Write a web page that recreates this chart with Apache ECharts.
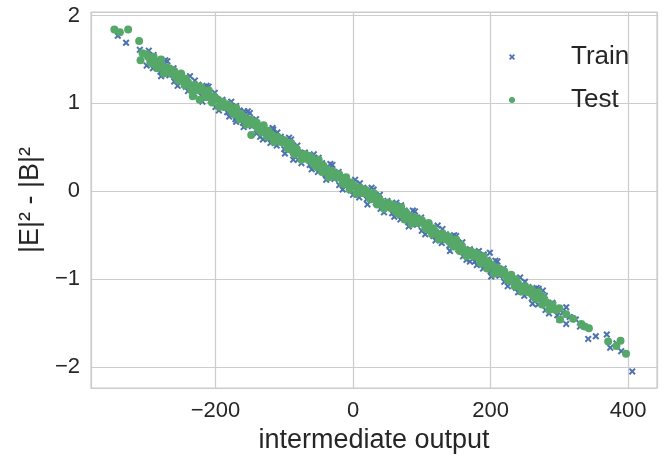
<!DOCTYPE html>
<html>
<head>
<meta charset="utf-8">
<script src="https://cdn.jsdelivr.net/npm/echarts@6/dist/echarts.min.js"></script>
<style>
  html, body { margin: 0; padding: 0; background: #fff; }
  #chart { width: 665px; height: 459px; }
</style>
</head>
<body>
<div id="chart"></div>
<script>
// points, [intermediate output, |E|^2 - |B|^2]
var trainPoints = [
  [-297, 1.60], [-291, 1.40], [-285, 1.50], [-279, 1.31], [-273, 1.49], [-267, 1.32], [-261, 1.40], [-255, 1.20],
  [-249, 1.31], [-243, 1.19], [-237, 1.31], [-231, 1.11], [-225, 1.21], [-219, 1.02], [-213, 1.20], [-207, 1.03],
  [-201, 1.12], [-195, 0.92], [-189, 1.02], [-183, 0.90], [-177, 1.02], [-171, 0.82], [-165, 0.92], [-159, 0.73],
  [-153, 0.91], [-147, 0.74], [-141, 0.82], [-135, 0.62], [-129, 0.72], [-123, 0.60], [-117, 0.72], [-111, 0.52],
  [-105, 0.62], [-99, 0.43], [-93, 0.61], [-87, 0.44], [-81, 0.52], [-75, 0.32], [-69, 0.42], [-63, 0.30],
  [-57, 0.42], [-51, 0.22], [-45, 0.32], [-39, 0.13], [-33, 0.31], [-27, 0.14], [-21, 0.22], [-15, 0.02],
  [-9, 0.12], [-3, 0.01], [3, 0.13], [9, -0.07], [15, 0.04], [21, -0.15], [27, 0.04], [33, -0.13],
  [39, -0.04], [45, -0.24], [51, -0.13], [57, -0.25], [63, -0.13], [69, -0.32], [75, -0.22], [81, -0.40],
  [87, -0.22], [93, -0.38], [99, -0.30], [105, -0.49], [111, -0.39], [117, -0.51], [123, -0.39], [129, -0.59],
  [135, -0.49], [141, -0.68], [147, -0.50], [153, -0.66], [159, -0.58], [165, -0.78], [171, -0.68], [177, -0.80],
  [183, -0.68], [189, -0.88], [195, -0.78], [201, -0.97], [207, -0.79], [213, -0.96], [219, -0.88], [225, -1.08],
  [231, -0.98], [237, -1.10], [243, -0.98], [249, -1.19], [255, -1.09], [261, -1.28], [267, -1.10], [273, -1.27],
  [279, -1.19], [285, -1.39], [291, -1.29], [297, -1.41]
];
var trainEdge = [
  [-300, 1.43], [-290, 1.55], [-280, 1.36], [-270, 1.48], [-260, 1.25], [-250, 1.33], [-240, 1.14], [-230, 1.26],
  [-220, 1.08], [-210, 1.19], [-200, 0.96], [-190, 1.04], [-180, 0.85], [-170, 0.97], [-160, 0.78], [-150, 0.89],
  [-140, 0.66], [-130, 0.74], [-120, 0.55], [-110, 0.67], [-100, 0.48], [-90, 0.59], [-80, 0.36], [-70, 0.44],
  [-60, 0.25], [-50, 0.38], [-40, 0.19], [-30, 0.30], [-20, 0.07], [-10, 0.15], [0, -0.04], [10, 0.09],
  [20, -0.09], [30, 0.02], [40, -0.20], [50, -0.11], [60, -0.29], [70, -0.16], [80, -0.35], [90, -0.23],
  [100, -0.45], [110, -0.37], [120, -0.56], [130, -0.43], [140, -0.62], [150, -0.51], [160, -0.74], [170, -0.66],
  [180, -0.84], [190, -0.72], [200, -0.91], [210, -0.80], [220, -1.03], [230, -0.96], [240, -1.15], [250, -1.03],
  [260, -1.22], [270, -1.11], [280, -1.35], [290, -1.27], [300, -1.46]
];
var trainOutliers = [
  [-342, 1.77], [-330, 1.69], [-310, 1.61], [-276, 1.38], [-272, 1.34], [-257, 1.26], [-225, 1.21],
  [-170, 0.79], [-158, 0.91], [-131, 0.59], [-116, 0.70], [-87, 0.36], [170, -0.80], [199, -0.70],
  [213, -0.96], [243, -1.14], [269, -1.29], [276, -1.13], [305, -1.38], [310, -1.32], [310, -1.51],
  [315, -1.43], [324, -1.46], [330, -1.54], [342, -1.68], [353, -1.65], [369, -1.63], [374, -1.78],
  [383, -1.73], [390, -1.82], [406, -2.05]
];
var testPoints = [
  [-300, 1.56], [-295, 1.47], [-290, 1.53], [-285, 1.40], [-280, 1.43], [-275, 1.34], [-270, 1.41], [-265, 1.34],
  [-260, 1.37], [-255, 1.27], [-250, 1.34], [-245, 1.21], [-240, 1.24], [-235, 1.15], [-230, 1.21], [-225, 1.15],
  [-220, 1.18], [-215, 1.08], [-210, 1.15], [-205, 1.01], [-200, 1.05], [-195, 0.96], [-190, 1.02], [-185, 0.96],
  [-180, 0.98], [-175, 0.89], [-170, 0.95], [-165, 0.82], [-160, 0.85], [-155, 0.76], [-150, 0.82], [-145, 0.76],
  [-140, 0.78], [-135, 0.69], [-130, 0.75], [-125, 0.62], [-120, 0.65], [-115, 0.56], [-110, 0.62], [-105, 0.56],
  [-100, 0.58], [-95, 0.49], [-90, 0.55], [-85, 0.42], [-80, 0.45], [-75, 0.36], [-70, 0.42], [-65, 0.36],
  [-60, 0.38], [-55, 0.29], [-50, 0.36], [-45, 0.22], [-40, 0.26], [-35, 0.16], [-30, 0.23], [-25, 0.16],
  [-20, 0.19], [-15, 0.09], [-10, 0.16], [-5, 0.02], [0, 0.06], [5, -0.03], [10, 0.04], [15, -0.02],
  [20, 0.01], [25, -0.09], [30, -0.02], [35, -0.15], [40, -0.11], [45, -0.20], [50, -0.13], [55, -0.19],
  [60, -0.16], [65, -0.25], [70, -0.18], [75, -0.32], [80, -0.28], [85, -0.37], [90, -0.30], [95, -0.36],
  [100, -0.33], [105, -0.42], [110, -0.36], [115, -0.49], [120, -0.46], [125, -0.55], [130, -0.48], [135, -0.55],
  [140, -0.52], [145, -0.62], [150, -0.55], [155, -0.68], [160, -0.65], [165, -0.74], [170, -0.68], [175, -0.74],
  [180, -0.71], [185, -0.81], [190, -0.74], [195, -0.88], [200, -0.84], [205, -0.94], [210, -0.87], [215, -0.94],
  [220, -0.91], [225, -1.01], [230, -0.95], [235, -1.08], [240, -1.05], [245, -1.14], [250, -1.08], [255, -1.15],
  [260, -1.12], [265, -1.22], [270, -1.15], [275, -1.29], [280, -1.26], [285, -1.35], [290, -1.29], [295, -1.35],
  [300, -1.33]
];
var testCore = [
  [-298, 1.53], [-288, 1.44], [-278, 1.41], [-268, 1.38], [-258, 1.31], [-248, 1.29], [-238, 1.20], [-228, 1.17],
  [-218, 1.14], [-208, 1.07], [-198, 1.05], [-188, 0.96], [-178, 0.93], [-168, 0.89], [-158, 0.82], [-148, 0.80],
  [-138, 0.71], [-128, 0.68], [-118, 0.64], [-108, 0.57], [-98, 0.55], [-88, 0.46], [-78, 0.43], [-68, 0.39],
  [-58, 0.32], [-48, 0.31], [-38, 0.22], [-28, 0.19], [-18, 0.15], [-8, 0.08], [2, 0.06], [12, -0.02],
  [22, -0.04], [32, -0.07], [42, -0.14], [52, -0.15], [62, -0.23], [72, -0.25], [82, -0.28], [92, -0.35],
  [102, -0.36], [112, -0.45], [122, -0.48], [132, -0.51], [142, -0.58], [152, -0.60], [162, -0.69], [172, -0.72],
  [182, -0.75], [192, -0.82], [202, -0.84], [212, -0.93], [222, -0.96], [232, -1.01], [242, -1.08], [252, -1.10],
  [262, -1.19], [272, -1.22], [282, -1.27], [292, -1.34]
];
var testMid = [
  [-293, 1.46], [-283, 1.47], [-273, 1.37], [-263, 1.38], [-253, 1.26], [-243, 1.28], [-233, 1.18], [-223, 1.19],
  [-213, 1.07], [-203, 1.08], [-193, 0.99], [-183, 0.99], [-173, 0.88], [-163, 0.88], [-153, 0.79], [-143, 0.79],
  [-133, 0.67], [-123, 0.69], [-113, 0.59], [-103, 0.59], [-93, 0.48], [-83, 0.49], [-73, 0.39], [-63, 0.40],
  [-53, 0.28], [-43, 0.29], [-33, 0.19], [-23, 0.20], [-13, 0.08], [-3, 0.10], [7, 0.00], [17, 0.02],
  [27, -0.09], [37, -0.07], [47, -0.17], [57, -0.15], [67, -0.26], [77, -0.24], [87, -0.33], [97, -0.32],
  [107, -0.43], [117, -0.42], [127, -0.52], [137, -0.51], [147, -0.63], [157, -0.61], [167, -0.71], [177, -0.70],
  [187, -0.82], [197, -0.80], [207, -0.91], [217, -0.90], [227, -1.01], [237, -1.00], [247, -1.12], [257, -1.11],
  [267, -1.22], [277, -1.21], [287, -1.33]
];
var testOutliers = [
  [-347, 1.84], [-339, 1.81], [-327, 1.84], [-311, 1.71], [-309, 1.49], [-306, 1.57], [-279, 1.50],
  [-233, 1.08], [-223, 1.04], [-148, 0.64], [296, -1.35], [301, -1.46], [310, -1.40], [320, -1.45],
  [332, -1.51], [337, -1.54], [343, -1.56], [371, -1.71], [383, -1.76], [389, -1.70], [397, -1.85]
];
var seriesNames = ['Train', 'Test'];
var xTicks = [-200, 0, 200, 400];
var yTicks = [-2, -1, 0, 1, 2];

var BLUE = '#4C72B0';
var GREEN = '#55A868';
var TEXT = '#262626';
var FONT = '"Liberation Sans", Arial, sans-serif';
// matplotlib 'x' marker
var CROSS = 'path://M2,0 L5,3 L8,0 L10,2 L7,5 L10,8 L8,10 L5,7 L2,10 L0,8 L3,5 L0,2 Z';

/* minus sign like matplotlib */
function tickText(list) {
  return function (v) {
    if (list.indexOf(Math.round(v * 1000) / 1000) < 0) return '';
    return String(v).replace('-', '\u2212');
  };
}

var chart = echarts.init(document.getElementById('chart'), null, { renderer: 'canvas' });
chart.setOption({
  animation: false,
  backgroundColor: '#ffffff',
  textStyle: { fontFamily: FONT, color: TEXT },
  grid: {
    left: 91, right: 8, top: 12, bottom: 68,
    show: true, borderColor: '#cccccc', borderWidth: 1.2
  },
  legend: {
    orient: 'vertical',
    left: 504,
    top: 37,
    itemWidth: 6,
    itemHeight: 6,
    itemGap: 13,
    textStyle: { fontSize: 26, color: TEXT, fontFamily: FONT, lineHeight: 30, padding: [0, 0, 0, 51] },
    data: [
      { name: seriesNames[0], icon: CROSS },
      { name: seriesNames[1], icon: 'circle' }
    ]
  },
  xAxis: {
    type: 'value',
    min: -381,
    max: 442,
    splitNumber: 4,
    name: 'intermediate output',
    nameLocation: 'middle',
    nameGap: 37,
    nameTextStyle: { fontSize: 27, color: TEXT, fontFamily: FONT },
    axisLine: { show: false },
    axisTick: { show: false },
    axisLabel: {
      showMinLabel: false, showMaxLabel: false,
      fontSize: 22, color: TEXT, fontFamily: FONT, margin: 12,
      formatter: tickText(xTicks)
    },
    splitLine: { lineStyle: { color: '#cccccc', width: 1.2 } }
  },
  yAxis: {
    type: 'value',
    min: -2.24,
    max: 2.04,
    splitNumber: 4,
    name: '|E|\u00b2 - |B|\u00b2',
    nameLocation: 'middle',
    nameGap: 44,
    nameTextStyle: { fontSize: 27, color: TEXT, fontFamily: FONT },
    axisLine: { show: false },
    axisTick: { show: false },
    axisLabel: {
      showMinLabel: false, showMaxLabel: false,
      fontSize: 22, color: TEXT, fontFamily: FONT, margin: 11,
      formatter: tickText(yTicks)
    },
    splitLine: { lineStyle: { color: '#cccccc', width: 1.2 } }
  },
  series: [
    {
      name: seriesNames[0],
      type: 'scatter',
      symbol: CROSS,
      symbolSize: 7,
      itemStyle: { color: BLUE, opacity: 1 },
      data: trainPoints.concat(trainEdge, trainOutliers)
    },
    {
      name: seriesNames[1],
      type: 'scatter',
      symbol: 'circle',
      symbolSize: 8,
      itemStyle: { color: GREEN, opacity: 1 },
      data: testPoints.concat(testCore, testMid, testOutliers)
    }
  ]
});
</script>
</body>
</html>
